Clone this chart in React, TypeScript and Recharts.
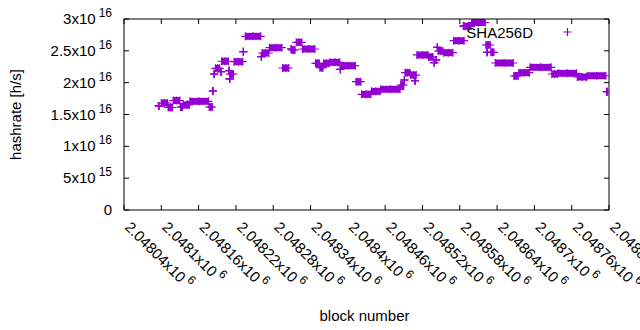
import React from "react";
import { ScatterChart, Scatter, XAxis, YAxis, ErrorBar, Legend } from "recharts";

// runs of blocks with the same estimated hashrate (first block, last block, value)
const segStart = [
  2048096, 2048100, 2048111, 2048119, 2048131, 2048135, 2048146, 2048177, 2048183, 2048185,
  2048187, 2048196, 2048197, 2048209, 2048210, 2048210, 2048217, 2048232, 2048235, 2048261,
  2048262, 2048274, 2048295, 2048309, 2048310, 2048317, 2048327, 2048348, 2048355, 2048361,
  2048371, 2048388, 2048389, 2048413, 2048422, 2048438, 2048453, 2048485, 2048491, 2048492,
  2048501, 2048508, 2048511, 2048530, 2048539, 2048542, 2048544, 2048545, 2048554, 2048570,
  2048586, 2048588, 2048599, 2048622, 2048624, 2048630, 2048637, 2048667, 2048675, 2048693,
  2048728, 2048738, 2048769, 2048785, 2048816,
];
const segEnd = [
  2048096, 2048110, 2048118, 2048130, 2048134, 2048145, 2048176, 2048182, 2048183, 2048185,
  2048194, 2048196, 2048208, 2048209, 2048210, 2048216, 2048231, 2048232, 2048260, 2048261,
  2048273, 2048294, 2048305, 2048309, 2048315, 2048326, 2048347, 2048354, 2048360, 2048370,
  2048387, 2048388, 2048412, 2048421, 2048437, 2048452, 2048484, 2048490, 2048491, 2048500,
  2048510, 2048508, 2048529, 2048537, 2048539, 2048542, 2048544, 2048553, 2048569, 2048587,
  2048586, 2048598, 2048621, 2048629, 2048624, 2048635, 2048666, 2048674, 2048692, 2048727,
  2048737, 2048768, 2048784, 2048815, 2048818,
];
const hashrate = [
  1.634e16, 1.681e16, 1.61e16, 1.72e16, 1.618e16, 1.649e16, 1.707e16, 1.618e16, 1.869e16, 2.136e16,
  2.226e16, 2.172e16, 2.336e16, 2.188e16, 2.058e16, 2.136e16, 2.329e16, 2.486e16, 2.728e16, 2.408e16,
  2.466e16, 2.549e16, 2.23e16, 2.529e16, 2.513e16, 2.634e16, 2.529e16, 2.304e16, 2.235e16, 2.304e16,
  2.32e16, 2.21e16, 2.267e16, 2.015e16, 1.817e16, 1.864e16, 1.896e16, 1.963e16, 2.042e16, 2.157e16,
  2.12e16, 2.031e16, 2.435e16, 2.403e16, 2.314e16, 2.356e16, 2.556e16, 2.497e16, 2.471e16, 2.659e16,
  2.89e16, 2.885e16, 2.945e16, 2.592e16, 2.477e16, 2.477e16, 2.309e16, 2.105e16, 2.157e16, 2.241e16,
  2.136e16, 2.147e16, 2.089e16, 2.109e16, 1.858e16,
];

const xTicks = [
  2048040, 2048100, 2048160, 2048220, 2048280, 2048340, 2048400,
  2048460, 2048520, 2048580, 2048640, 2048700, 2048760, 2048820,
];
const yTicks = [0, 5e15, 1e16, 1.5e16, 2e16, 2.5e16, 3e16];

const seriesName = "SHA256D";
const PURPLE = "#9400d3";
const FONT = "'Liberation Sans', Arial, sans-serif";

// one point per run, with the run drawn as a thick horizontal error bar
const points = segStart.map((s, i) => ({
  block: (s + segEnd[i]) / 2,
  rate: hashrate[i],
  span: (segEnd[i] - s) / 2,
}));
// first and last block of every run get their own "+"
const edges = segStart.flatMap((s, i) => [
  { block: s, rate: hashrate[i] },
  { block: segEnd[i], rate: hashrate[i] },
]);

// gnuplot style "2.5x10^16"
function sci(v: number): [string, string] {
  if (v === 0) return ["0", ""];
  const e = Math.floor(Math.log10(v) + 1e-9);
  const m = parseFloat((v / Math.pow(10, e)).toPrecision(6));
  return [`${m}x10`, String(e)];
}

const YTick = (props: any) => {
  const { x, y, payload } = props;
  const [m, e] = sci(payload.value);
  return (
    <text x={x} y={y + 5} textAnchor="end" fontFamily={FONT} fontSize={15} fill="#000">
      {m}
      {e && (
        <tspan dx={3} dy={-7} fontSize={12}>
          {e}
        </tspan>
      )}
    </text>
  );
};

const XTick = (props: any) => {
  const { x, y, payload } = props;
  const [m, e] = sci(payload.value);
  const tx = x;
  return (
    <text x={tx} y={y} transform={`rotate(45 ${tx} ${y})`} textAnchor="start" fontFamily={FONT} fontSize={15} fill="#000">
      {m}
      {e && (
        <tspan dx={3} dy={-7} fontSize={12}>
          {e}
        </tspan>
      )}
    </text>
  );
};

const NoTick = () => <g />;

const Plus = (props: any) => {
  const { cx, cy } = props;
  return <path d={`M${cx - 4},${cy}h8M${cx},${cy - 4}v8`} stroke={PURPLE} strokeWidth={1.2} fill="none" />;
};

const KeyBox = () => (
  <div style={{ position: "relative", width: 150, height: 20, fontFamily: FONT, fontSize: 15, color: "#000" }}>
    <span style={{ position: "absolute", right: 57, top: 0, whiteSpace: "nowrap" }}>{seriesName}</span>
    <svg width={20} height={20} style={{ position: "absolute", left: 117, top: -2 }}>
      <path d="M6.5,10h8M10.5,6v8" stroke={PURPLE} strokeWidth={1.2} fill="none" />
    </svg>
  </div>
);

export default function App() {
  return (
    <div style={{ position: "absolute", left: 0, top: 0, background: "#fff" }}>
      <ScatterChart width={640} height={330} margin={{ top: 0, right: 1, bottom: 0, left: 0 }}>
        <XAxis
          xAxisId="b"
          type="number"
          dataKey="block"
          domain={[2048040, 2048820]}
          ticks={xTicks}
          interval={0}
          allowDataOverflow
          height={120}
          stroke="#000"
          tickSize={-5}
          tickMargin={23}
          tick={<XTick />}
          label={(p: any) => {
            const vb = p.viewBox;
            return (
              <text x={vb.x + vb.width / 2 - 2} y={vb.y + 111} textAnchor="middle" fontFamily={FONT} fontSize={15} fill="#000">
                block number
              </text>
            );
          }}
        />
        <XAxis
          xAxisId="t"
          orientation="top"
          type="number"
          dataKey="block"
          domain={[2048040, 2048820]}
          ticks={xTicks}
          interval={0}
          allowDataOverflow
          height={19}
          stroke="#000"
          tickSize={-5}
          tick={<NoTick />}
        />
        <YAxis
          yAxisId="l"
          type="number"
          dataKey="rate"
          domain={[0, 3e16]}
          ticks={yTicks}
          interval={0}
          allowDataOverflow
          width={124}
          stroke="#000"
          tickSize={-5}
          tickMargin={17}
          tick={<YTick />}
          label={(p: any) => {
            const vb = p.viewBox;
            const cy = vb.y + vb.height / 2;
            return (
              <text x={21} y={cy} transform={`rotate(-90 21 ${cy})`} textAnchor="middle" fontFamily={FONT} fontSize={15} fill="#000">
                hashrate [h/s]
              </text>
            );
          }}
        />
        <YAxis
          yAxisId="r"
          orientation="right"
          type="number"
          domain={[0, 3e16]}
          ticks={yTicks}
          interval={0}
          allowDataOverflow
          width={30}
          stroke="#000"
          tickSize={-5}
          tick={<NoTick />}
        />
        <Legend
          layout="horizontal"
          verticalAlign="middle"
          wrapperStyle={{ position: "absolute", left: 440, top: 24, width: 150 }}
          content={<KeyBox />}
        />
        <Scatter
          name={seriesName}
          data={points}
          xAxisId="b"
          yAxisId="l"
          fill={PURPLE}
          shape={<Plus />}
          isAnimationActive={false}
        >
          <ErrorBar
            dataKey="span"
            direction="x"
            width={0}
            strokeWidth={7}
            stroke={PURPLE}
            isAnimationActive={false}
          />
        </Scatter>
        <Scatter
          name="edges"
          legendType="none"
          data={edges}
          xAxisId="b"
          yAxisId="l"
          fill={PURPLE}
          shape={<Plus />}
          isAnimationActive={false}
        />
      </ScatterChart>
    </div>
  );
}
